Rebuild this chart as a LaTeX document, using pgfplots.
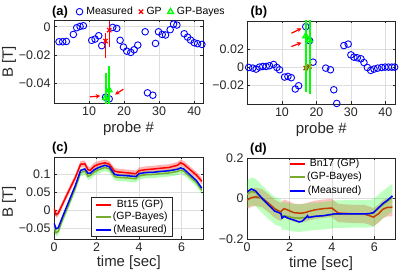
\documentclass[border=0pt]{standalone}
\usepackage{fontspec}
\setmainfont{Liberation Sans}
\usepackage{pgfplots}
\usepackage{pgfplotstable}
\pgfplotsset{compat=1.18}
\usetikzlibrary{arrows.meta}
\definecolor{axgray}{RGB}{38,38,38}
\definecolor{gridgray}{RGB}{222,222,222}
\definecolor{olivegr}{RGB}{119,172,48}

\pgfplotstableread{
t     gp      bay     meas
0     0.004  -0.046  -0.035
0.1  -0.012  -0.062  -0.051
0.2  -0.008  -0.058  -0.048
0.4   0.017  -0.026  -0.018
0.7   0.054   0.017   0.025
1.0   0.090   0.061   0.068
1.25  0.127   0.104   0.110
1.45  0.128   0.108   0.114
1.6   0.112   0.094   0.102
1.7   0.110   0.096   0.102
1.9   0.122   0.106   0.112
2.1   0.127   0.112   0.118
2.4   0.131   0.118   0.124
2.6   0.127   0.114   0.120
2.85  0.108   0.093   0.099
3.0   0.106   0.091   0.097
3.5   0.103   0.089   0.095
3.85  0.101   0.087   0.093
4.0   0.109   0.095   0.101
4.3   0.112   0.098   0.104
4.7   0.114   0.099   0.105
5.0   0.116   0.101   0.107
5.4   0.118   0.103   0.109
5.8   0.124   0.107   0.113
5.95  0.131   0.111   0.117
6.1   0.127   0.108   0.114
6.4   0.112   0.092   0.098
6.7   0.097   0.076   0.082
6.95  0.080   0.055   0.061
}\tabc

\pgfplotstableread{
t     gp      bay     meas
0    -0.008   0.020   0.032
0.2   0.004   0.035   0.047
0.4   0.008   0.030   0.038
0.7   0.002  -0.002   0.002
1.0  -0.022  -0.032  -0.030
1.3  -0.050  -0.060  -0.062
1.5  -0.062  -0.068  -0.070
1.6  -0.066  -0.073  -0.075
1.65 -0.058  -0.090  -0.097
1.75 -0.050  -0.085  -0.088
1.95 -0.058  -0.090  -0.098
2.2  -0.070  -0.095  -0.106
2.45 -0.072  -0.097  -0.116
2.6  -0.072  -0.095  -0.112
2.8  -0.068  -0.093  -0.092
2.85 -0.066  -0.092  -0.085
2.9  -0.064  -0.091  -0.094
3.2  -0.056  -0.088  -0.088
3.6  -0.050  -0.085  -0.085
4.0  -0.047  -0.080  -0.078
4.1  -0.056  -0.078  -0.076
4.3  -0.072  -0.077  -0.076
5.0  -0.076  -0.076  -0.076
5.5  -0.076  -0.076  -0.076
5.75 -0.084  -0.075  -0.075
5.95 -0.092  -0.072  -0.070
6.2  -0.075  -0.048  -0.045
6.4  -0.053  -0.030  -0.025
6.6  -0.044  -0.015  -0.010
6.85 -0.043   0.005   0.013
}\tabd

\pgfplotsset{
  myax/.style={
    scale only axis,
    anchor=south west,
    scaled ticks=false,
    axis line style={axgray, line width=0.5bp},
    tick style={axgray, line width=0.5bp},
    major tick length=2.5bp,
    tick align=inside,
    xtick pos=both, ytick pos=both,
    xticklabel pos=bottom, yticklabel pos=left,
    xmajorgrids, ymajorgrids,
    grid style={gridgray, line width=0.5bp},
    ticklabel style={font=\fontsize{12.5}{14}\selectfont, text=axgray},
    label style={font=\fontsize{15}{17}\selectfont, text=axgray},
    /pgf/number format/assume math mode=true,
  }
}

\begin{document}
\begin{tikzpicture}[x=1bp,y=1bp]
\useasboundingbox (0bp,0bp) rectangle (403bp,278bp);

% ---------------- (a)
\begin{axis}[myax, at={(54bp,174.5bp)}, width=149bp, height=83.5bp, clip mode=individual,
  xmin=0, xmax=42.5, ymin=-0.0547, ymax=0.0048,
  xtick={10,20,30,40}, xticklabels={10,20,30,40},
  ytick={-0.04,-0.02,0}, yticklabels={−0.04,−0.02,0},
  xlabel={probe \#}, ylabel={B [T]},
  xlabel style={at={(axis description cs:0.5,-0.305)}, anchor=center},
  ylabel style={at={(axis description cs:-0.302,0.5)}, anchor=center},
  legend columns=3,
  legend style={at={(axis description cs:0.148,1.099)}, anchor=west,
    draw=none, fill=none, inner sep=0pt,
    font=\fontsize{10.5}{12}\selectfont,
    nodes={inner sep=1bp},
    /tikz/every odd column/.append style={column sep=2.5bp},
    /tikz/every even column/.append style={column sep=5bp}},
  legend image code/.code={\draw[mark repeat=2,mark phase=2,#1] plot coordinates {(0bp,0bp) (5bp,0bp) (10bp,0bp)};},
]
\addplot[only marks, mark=o, blue, mark size=3.3bp, line width=0.9bp] coordinates {
(1.43,-0.0107)(2.48,-0.0107)(3.52,-0.0105)(5.52,-0.0055)(6.48,-0.0007)(7.43,0.0002)(8.38,0.0007)
(10.76,-0.0097)(11.71,-0.0088)(12.76,-0.0064)(13.62,-0.0135)(14.7,-0.0502)(15.75,-0.0514)
(16.76,-0.0005)(17.9,-0.0012)(18.86,-0.0097)(19.81,-0.0145)(20.76,-0.0174)(21.9,-0.0183)
(22.86,-0.0164)(23.9,-0.0131)(26.0,-0.0036)(26.67,-0.0471)(28.19,-0.0488)(28.95,-0.0119)
(29.81,-0.0036)(30.86,-0.0055)(31.81,-0.0059)(33.14,-0.0021)(34.1,0.0019)(35.05,0.0012)
(37.14,-0.005)(38.1,-0.0074)(38.95,-0.0095)(40.0,-0.0114)(40.95,-0.0121)(42.19,-0.0126)};
\addlegendentry{Measured}
\addplot[only marks, mark=x, red, mark size=3bp, line width=1.2bp,
  error bars/.cd, y dir=both, y explicit, error bar style={line width=1.3bp, red}, error mark=none]
  coordinates {(14.7,-0.0102) += (0,0.0058) -= (0,0.0119) (15.75,-0.0024) += (0,0.0065) -= (0,0.0119)};
\addlegendentry{GP}
\addplot[only marks, mark=triangle, green, mark size=3.3bp, line width=1.3bp,
  error bars/.cd, y dir=both, y explicit, error bar style={line width=2bp, green}, error mark=none]
  coordinates {(14.7,-0.0507) +- (0,0.0174) (15.75,-0.0452) +- (0,0.0173)};
\addlegendentry{GP-Bayes}
\draw[red, line width=1.2bp, -{Stealth[length=4.5bp,width=4.5bp]}] (axis cs:10.2,-0.0500) -- (axis cs:13.2,-0.0493);
\draw[red, line width=1.2bp, -{Stealth[length=4.5bp,width=4.5bp]}] (axis cs:19.8,-0.0445) -- (axis cs:17.4,-0.0483);
\end{axis}

% ---------------- (b)
\begin{axis}[myax, at={(247.5bp,174bp)}, width=147.5bp, height=83bp, clip mode=individual,
  xmin=0, xmax=42.8, ymin=-0.0404, ymax=0.0505,
  xtick={10,20,30,40}, xticklabels={10,20,30,40},
  ytick={-0.02,0,0.02}, yticklabels={−0.02,0,0.02},
  xlabel={probe \#},
  xlabel style={at={(axis description cs:0.5,-0.31)}, anchor=center},
]
\addplot[only marks, mark=o, blue, mark size=3.3bp, line width=0.9bp] coordinates {
(0.35,-0.0004)(1.52,-0.0011)(2.5,-0.0022)(3.47,0)(4.44,0.0007)(5.41,0.0007)(6.38,0.0015)
(7.55,0.0029)(8.52,-0.0004)(9.3,-0.0029)(10.76,-0.0109)(11.73,-0.0102)(12.7,-0.0116)
(13.87,-0.024)(14.84,-0.0204)(16.9,0.0443)(18.0,0.029)(19.02,0.0054)(22.7,-0.0011)
(24.07,-0.0029)(25.04,-0.0248)(25.9,-0.0398)(27.96,0.0236)(29.22,0.0252)(30.0,0.0134)
(30.88,0.0109)(31.85,0.0102)(32.92,0.0091)(33.79,0.005)(34.77,-0.0004)(35.74,-0.0036)
(36.71,-0.0022)(37.78,-0.0011)(38.95,-0.0004)(39.92,0)(40.9,0)(41.87,0)(42.7,0)};
\addplot[only marks, mark=x, red, mark size=3bp, line width=1.2bp,
  error bars/.cd, y dir=both, y explicit, error bar style={line width=1.3bp, red}, error mark=none]
  coordinates {(16.9,-0.001) += (0,0.027) -= (0,0.019) (18.0,0.0007) += (0,0.013) -= (0,0.025)};
\addplot[only marks, mark=triangle, green, mark size=3.3bp, line width=1.3bp,
  error bars/.cd, y dir=both, y explicit, error bar style={line width=2bp, green}, error mark=none]
  coordinates {(16.9,0.0341) +- (0,0.0614) (18.0,0.0297) +- (0,0.0592)};
\draw[red, line width=1.2bp, -{Stealth[length=4.5bp,width=4.5bp]}] (axis cs:12.74,0.0371) -- (axis cs:15.66,0.0425);
\draw[red, line width=1.2bp, -{Stealth[length=4.5bp,width=4.5bp]}] (axis cs:12.74,0.0225) -- (axis cs:15.66,0.0268);
\end{axis}

% ---------------- (c)
\begin{axis}[myax, at={(54bp,39bp)}, width=149.5bp, height=82bp,
  xmin=0, xmax=7.03, ymin=-0.079, ymax=0.147,
  xtick={0,2,4,6}, xticklabels={0,2,4,6},
  ytick={-0.05,0,0.05,0.1}, yticklabels={−0.05,0,0.05,0.1},
  xlabel={time [sec]}, ylabel={B [T]},
  xlabel style={at={(axis description cs:0.5,-0.293)}, anchor=center},
  ylabel style={at={(axis description cs:-0.301,0.45)}, anchor=center},
  legend style={at={(axis description cs:0.2455,0.5085)}, anchor=north west,
    draw=axgray, fill=white, inner xsep=4bp, inner ysep=1bp,
    font=\fontsize{10.5}{12}\selectfont,
    nodes={inner sep=1bp, text height=7.5bp, text depth=2.5bp},
    row sep=0.5bp,
    /tikz/every odd column/.append style={column sep=0bp}},
  legend image code/.code={\draw[#1, line width=2bp] (0bp,0bp) -- (15bp,0bp);},
]
% GP-Bayes band
\addplot[fill=green, fill opacity=0.3, draw=none, forget plot] coordinates {
(0,-0.036)(0.1,-0.052)(0.2,-0.048)(0.4,-0.016)(0.7,0.027)(1.0,0.071)(1.25,0.114)(1.45,0.118)(1.6,0.104)(1.7,0.106)(1.9,0.116)(2.1,0.122)(2.4,0.128)(2.6,0.124)(2.85,0.103)(3.0,0.101)(3.5,0.099)(3.85,0.097)(4.0,0.105)(4.3,0.108)(4.7,0.109)(5.0,0.111)(5.4,0.113)(5.8,0.117)(5.95,0.121)(6.1,0.118)(6.4,0.102)(6.7,0.086)(6.95,0.065)
(6.95,0.045)(6.7,0.066)(6.4,0.082)(6.1,0.098)(5.95,0.101)(5.8,0.097)(5.4,0.093)(5.0,0.091)(4.7,0.089)(4.3,0.088)(4.0,0.085)(3.85,0.077)(3.5,0.079)(3.0,0.081)(2.85,0.083)(2.6,0.104)(2.4,0.108)(2.1,0.102)(1.9,0.096)(1.7,0.086)(1.6,0.084)(1.45,0.098)(1.25,0.094)(1.0,0.051)(0.7,0.007)(0.4,-0.036)(0.2,-0.068)(0.1,-0.072)(0,-0.056)} -- cycle;
% GP band
\addplot[fill=red, fill opacity=0.3, draw=none, forget plot] coordinates {
(0,0.013)(0.1,-0.003)(0.2,0.001)(0.4,0.026)(0.7,0.063)(1.0,0.099)(1.25,0.136)(1.45,0.137)(1.6,0.121)(1.7,0.119)(1.9,0.131)(2.1,0.136)(2.4,0.140)(2.6,0.136)(2.85,0.117)(3.0,0.115)(3.5,0.112)(3.85,0.110)(4.0,0.118)(4.3,0.121)(4.7,0.123)(5.0,0.125)(5.4,0.127)(5.8,0.133)(5.95,0.140)(6.1,0.136)(6.4,0.121)(6.7,0.106)(6.95,0.089)
(6.95,0.071)(6.7,0.088)(6.4,0.103)(6.1,0.118)(5.95,0.122)(5.8,0.115)(5.4,0.109)(5.0,0.107)(4.7,0.105)(4.3,0.103)(4.0,0.100)(3.85,0.092)(3.5,0.094)(3.0,0.097)(2.85,0.099)(2.6,0.118)(2.4,0.122)(2.1,0.118)(1.9,0.113)(1.7,0.101)(1.6,0.103)(1.45,0.119)(1.25,0.118)(1.0,0.081)(0.7,0.045)(0.4,0.008)(0.2,-0.017)(0.1,-0.021)(0,-0.005)} -- cycle;
\addplot[red, line width=1.5bp] table[x=t,y=gp]{\tabc};
\addlegendentry{Bt15 (GP)}
\addplot[olivegr, line width=1.5bp] table[x=t,y=bay]{\tabc};
\addlegendentry{(GP-Bayes)}
\addplot[blue, line width=1.5bp] table[x=t,y=meas]{\tabc};
\addlegendentry{(Measured)}
\end{axis}

% ---------------- (d)
\begin{axis}[myax, at={(247bp,39bp)}, width=148bp, height=81bp,
  xmin=0, xmax=6.97, ymin=-0.2, ymax=0.2,
  xtick={0,2,4,6}, xticklabels={0,2,4,6},
  ytick={-0.2,0,0.2}, yticklabels={−0.2,0,0.2},
  xlabel={time [sec]},
  xlabel style={at={(axis description cs:0.5,-0.3)}, anchor=center},
  legend style={at={(axis description cs:0.284,1)}, anchor=north west,
    draw=none, fill=none, inner xsep=0bp, inner ysep=0bp,
    font=\fontsize{10.5}{12}\selectfont,
    nodes={inner sep=1bp, text height=7.5bp, text depth=2.5bp},
    row sep=1.3bp,
    /tikz/every odd column/.append style={column sep=0bp}},
  legend image code/.code={\draw[#1, line width=2bp] (0bp,0bp) -- (15bp,0bp);},
]
% GP band
\addplot[fill=red, fill opacity=0.25, draw=none, forget plot] coordinates {
(0,0.037)(0.2,0.049)(0.4,0.053)(0.7,0.047)(1.0,0.023)(1.3,-0.005)(1.5,-0.017)(1.6,-0.021)(1.65,-0.013)(1.75,-0.005)(1.95,-0.013)(2.2,-0.025)(2.45,-0.027)(2.6,-0.027)(2.8,-0.023)(2.85,-0.021)(2.9,-0.019)(3.2,-0.011)(3.6,-0.005)(4.0,-0.002)(4.1,-0.011)(4.3,-0.027)(5.0,-0.031)(5.5,-0.031)(5.75,-0.039)(5.95,-0.047)(6.2,-0.030)(6.4,-0.008)(6.6,0.001)(6.85,0.002)
(6.85,-0.088)(6.6,-0.089)(6.4,-0.098)(6.2,-0.120)(5.95,-0.137)(5.75,-0.129)(5.5,-0.121)(5.0,-0.121)(4.3,-0.117)(4.1,-0.101)(4.0,-0.092)(3.6,-0.095)(3.2,-0.101)(2.9,-0.109)(2.85,-0.111)(2.8,-0.113)(2.6,-0.117)(2.45,-0.117)(2.2,-0.115)(1.95,-0.103)(1.75,-0.095)(1.65,-0.103)(1.6,-0.111)(1.5,-0.107)(1.3,-0.095)(1.0,-0.067)(0.7,-0.043)(0.4,-0.037)(0.2,-0.041)(0,-0.053)} -- cycle;
\addplot[red, line width=1.5bp] table[x=t,y=gp]{\tabd};
\addlegendentry{Bn17 (GP)}
% GP-Bayes band
\addplot[fill=green, fill opacity=0.25, draw=none, forget plot] coordinates {
(0,0.088)(0.2,0.103)(0.4,0.098)(0.7,0.066)(1.0,0.036)(1.3,0.008)(1.5,0.000)(1.6,-0.005)(1.65,-0.022)(1.75,-0.017)(1.95,-0.022)(2.2,-0.027)(2.45,-0.029)(2.6,-0.027)(2.8,-0.025)(2.85,-0.024)(2.9,-0.023)(3.2,-0.020)(3.6,-0.017)(4.0,-0.012)(4.1,-0.010)(4.3,-0.009)(5.0,-0.008)(5.5,-0.008)(5.75,-0.007)(5.95,-0.004)(6.2,0.020)(6.4,0.038)(6.6,0.053)(6.85,0.073)
(6.85,-0.063)(6.6,-0.083)(6.4,-0.098)(6.2,-0.116)(5.95,-0.140)(5.75,-0.143)(5.5,-0.144)(5.0,-0.144)(4.3,-0.145)(4.1,-0.146)(4.0,-0.148)(3.6,-0.153)(3.2,-0.156)(2.9,-0.159)(2.85,-0.160)(2.8,-0.161)(2.6,-0.163)(2.45,-0.165)(2.2,-0.163)(1.95,-0.158)(1.75,-0.153)(1.65,-0.158)(1.6,-0.141)(1.5,-0.136)(1.3,-0.128)(1.0,-0.100)(0.7,-0.070)(0.4,-0.038)(0.2,-0.033)(0,-0.048)} -- cycle;
\addplot[olivegr, line width=1.5bp] table[x=t,y=bay]{\tabd};
\addlegendentry{(GP-Bayes)}
\addplot[blue, line width=1.5bp] table[x=t,y=meas]{\tabd};
\addlegendentry{(Measured)}
\end{axis}

\node[font=\bfseries\fontsize{13}{15}\selectfont] at (60bp,265.5bp) {(a)};
\node[font=\bfseries\fontsize{13}{15}\selectfont] at (258.8bp,265.5bp) {(b)};
\node[font=\bfseries\fontsize{13}{15}\selectfont] at (60bp,129.5bp) {(c)};
\node[font=\bfseries\fontsize{13}{15}\selectfont] at (258.5bp,129bp) {(d)};
\end{tikzpicture}
\end{document}
